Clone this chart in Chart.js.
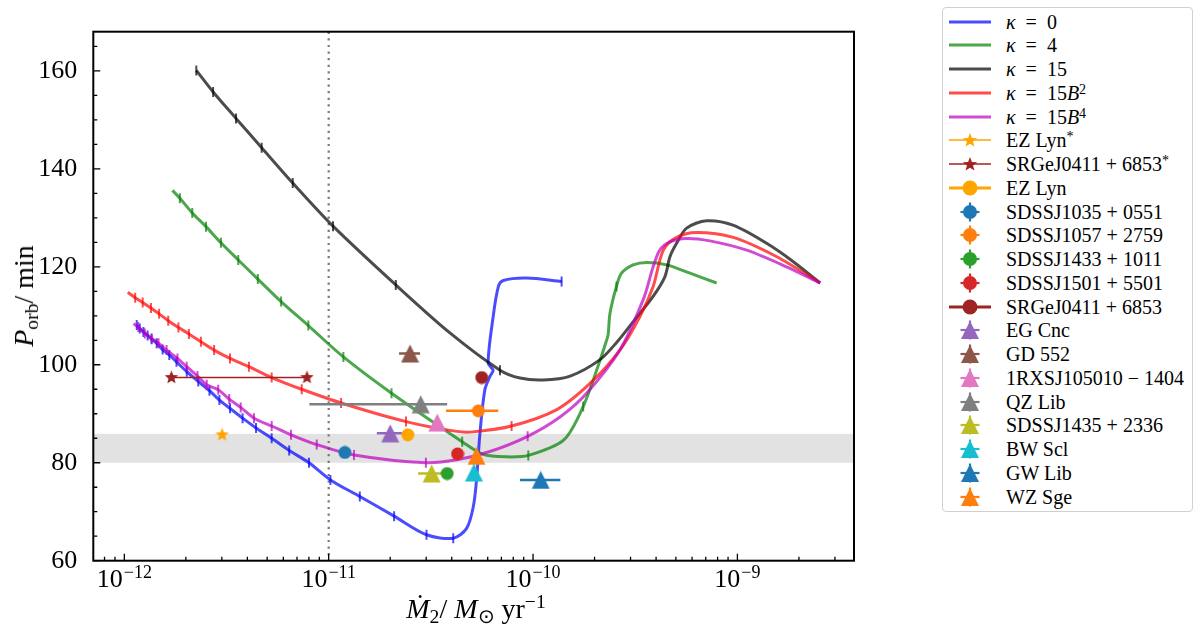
<!DOCTYPE html>
<html>
<head>
<meta charset="utf-8">
<title>Porb vs Mdot</title>
<script src="https://cdn.jsdelivr.net/npm/chart.js@4.4.1/dist/chart.umd.min.js"></script>
<style>
  html, body { margin: 0; padding: 0; background: #fff; }
  body { width: 1200px; height: 638px; position: relative; overflow: hidden; font-family: 'Liberation Serif', serif; color: #000; }
  #plot { position: absolute; left: 0; top: 0; }
  .axtitle { position: absolute; font-size: 28px; white-space: nowrap; line-height: 1; }
  #ytitle { left: 24px; top: 296px; transform: translate(-50%, -50%) rotate(-90deg); }
  #xtitle { left: 476px; top: 609px; transform: translate(-50%, -50%); }
  .axtitle sub { font-size: 0.7em; vertical-align: -0.25em; line-height: 0; }
  .axtitle sup { font-size: 0.7em; vertical-align: 0.5em; line-height: 0; }
  #legend { position: absolute; left: 942px; top: 7px; width: 251px; height: 505px; border: 1px solid #d0d0d0; border-radius: 4px; box-sizing: border-box; background: #fff; }
  .row { position: absolute; left: 0; height: 24px; width: 100%; }
  .row svg { position: absolute; left: 0; top: 0; }
  .row span { position: absolute; left: 63px; top: 0; line-height: 24px; font-size: 20px; white-space: nowrap; }
  .row sup { font-size: 0.7em; vertical-align: 0.45em; line-height: 0; }
</style>
</head>
<body>
<canvas id="plot" width="880" height="638"></canvas>
<div id="ytitle" class="axtitle"><i>P</i><sub>orb</sub>/ min</div>
<div id="xtitle" class="axtitle"><i>Ṁ</i><sub>2</sub>/ <i>M</i><sub>⊙</sub> yr<sup>−1</sup></div>
<div id="legend"></div>
<script>
// axis ranges and ticks
const xMin = 7.05e-13, xMax = 3.72e-9;
const yMin = 60, yMax = 168;
const yMajorTicks = [60, 80, 100, 120, 140, 160];
const xMajorTicks = [1e-12, 1e-11, 1e-10, 1e-9];
const xTickExponents = ['−12', '−11', '−10', '−9'];
const bandPorb = [80.0, 85.9];
const dottedMdot = 1e-11;

// evolution tracks (Mdot in Msun/yr, Porb in min, 1 = track has a tick mark there)
const k0Mdot = [1.15e-12, 1.19e-12, 1.24e-12, 1.30e-12, 1.36e-12, 1.44e-12, 1.54e-12, 1.66e-12, 1.80e-12, 2.02e-12,
  2.30e-12, 2.61e-12, 2.92e-12, 3.29e-12, 3.79e-12, 4.41e-12, 5.26e-12, 6.41e-12, 8.01e-12, 1.02e-11,
  1.42e-11, 2.09e-11, 3.01e-11, 4.07e-11, 4.73e-11, 5.10e-11, 5.29e-11, 5.50e-11, 5.81e-11, 6.15e-11,
  6.38e-11, 6.03e-11, 6.38e-11, 6.76e-11, 7.15e-11, 9.30e-11, 1.38e-10];
const k0Porb = [108.1, 107.4, 106.7, 106.0, 105.2, 104.4, 103.1, 102.0, 100.6, 98.6,
  96.6, 94.7, 92.8, 91.1, 89.1, 87.1, 85.0, 82.5, 80.0, 76.5,
  73.1, 69.1, 65.3, 64.6, 66.6, 71.0, 76.5, 86.1, 94.9, 97.6,
  98.9, 100.3, 109.8, 115.9, 117.2, 117.7, 117.0];
const k0Tick = [1, 1, 1, 1, 1, 1, 1, 1, 1, 1, 1, 1, 1, 1, 1, 1, 1, 1, 1, 1, 1, 1, 1, 1,
  0, 0, 0, 0, 0, 0, 0, 0, 0, 0, 0, 0, 1];

const k4Mdot = [1.72e-12, 1.87e-12, 2.15e-12, 2.51e-12, 2.97e-12, 3.61e-12, 4.50e-12, 5.85e-12, 7.95e-12, 1.18e-11,
  2.03e-11, 4.50e-11, 5.71e-11, 7.43e-11, 9.48e-11, 1.41e-10, 1.76e-10, 2.13e-10, 2.29e-10, 2.33e-10,
  2.38e-10, 2.56e-10, 2.71e-10, 3.09e-10, 3.60e-10, 4.51e-10, 5.86e-10, 7.91e-10];
const k4Porb = [135.6, 134.0, 131.0, 128.2, 124.9, 121.4, 117.5, 112.9, 108.0, 101.6,
  94.2, 84.3, 81.7, 81.2, 81.5, 84.6, 91.5, 101.0, 105.0, 106.1,
  110.5, 116.0, 118.7, 120.4, 120.9, 120.4, 118.7, 116.7];
const k4Tick = [0, 1, 1, 1, 1, 1, 1, 1, 1, 1, 1, 1, 0, 0, 1, 0, 1, 0, 0, 0, 0, 1, 0, 0, 0, 0, 0, 0];

const k15Mdot = [2.25e-12, 2.72e-12, 3.52e-12, 4.70e-12, 6.67e-12, 1.05e-11, 2.13e-11, 3.92e-11, 6.89e-11, 8.63e-11,
  1.12e-10, 1.52e-10, 2.12e-10, 2.57e-10, 3.08e-10, 3.86e-10, 4.41e-10, 4.68e-10, 5.04e-10, 5.64e-10,
  7.06e-10, 9.51e-10, 1.39e-9, 1.87e-9, 2.54e-9];
const k15Porb = [160.1, 155.7, 150.3, 144.3, 137.1, 128.3, 116.3, 106.5, 98.9, 97.3,
  96.9, 97.7, 101.0, 104.6, 108.7, 113.9, 117.9, 122.1, 124.8, 127.9,
  129.4, 128.5, 124.8, 121.1, 116.7];
const k15Tick = [1, 1, 1, 1, 1, 1, 1, 0, 1, 0, 0, 0, 0, 0, 0, 0, 0, 0, 0, 0, 0, 0, 0, 0, 0];

const k15B2Mdot = [1.04e-12, 1.13e-12, 1.23e-12, 1.35e-12, 1.48e-12, 1.64e-12, 1.84e-12, 2.07e-12, 2.37e-12, 2.75e-12,
  3.29e-12, 4.07e-12, 5.26e-12, 7.38e-12, 1.15e-11, 2.39e-11, 4.23e-11, 5.08e-11, 7.85e-11, 1.30e-10,
  1.90e-10, 2.66e-10, 3.33e-10, 3.87e-10, 4.34e-10, 5.04e-10, 6.31e-10, 9.53e-10, 1.55e-9, 2.54e-9];
const k15B2Porb = [114.8, 113.7, 112.7, 111.6, 110.4, 109.0, 107.6, 106.3, 104.7, 103.0,
  101.3, 99.6, 97.4, 95.0, 92.2, 88.4, 86.4, 86.3, 87.5, 90.8,
  96.2, 103.0, 109.8, 116.0, 123.4, 126.0, 127.0, 126.0, 122.1, 116.7];
const k15B2Tick = [0, 1, 1, 1, 1, 1, 1, 1, 1, 1, 1, 1, 1, 1, 1, 1, 0, 0, 1, 0, 0, 0, 0, 0, 0, 0, 0, 0, 0, 0];

const k15B4Mdot = [1.11e-12, 1.17e-12, 1.26e-12, 1.36e-12, 1.47e-12, 1.61e-12, 1.82e-12, 2.02e-12, 2.28e-12, 2.53e-12,
  2.88e-12, 3.26e-12, 3.71e-12, 4.31e-12, 5.26e-12, 6.54e-12, 8.74e-12, 1.33e-11, 2.99e-11, 4.23e-11,
  6.15e-11, 9.41e-11, 1.36e-10, 1.83e-10, 2.66e-10, 3.46e-10, 3.87e-10, 4.17e-10, 4.67e-10, 5.64e-10,
  7.33e-10, 1.11e-9, 1.74e-9, 2.54e-9];
const k15B4Porb = [108.4, 107.7, 106.4, 105.4, 104.4, 103.0, 101.3, 99.6, 97.7, 95.9,
  94.9, 93.0, 91.3, 89.1, 87.5, 85.7, 83.7, 81.6, 80.0, 80.6,
  82.3, 85.4, 89.4, 94.2, 103.0, 113.3, 120.0, 123.4, 125.1, 125.8,
  125.3, 123.4, 120.0, 116.7];
const k15B4Tick = [0, 1, 1, 1, 1, 1, 1, 1, 1, 1, 1, 1, 1, 1, 1, 1, 1, 1, 1, 0, 0, 1, 0, 0, 0, 0, 0, 0, 0, 0, 0, 0, 0, 0];

// observed systems
const ezStarMdot = [3.01e-12];
const ezStarPorb = [85.7];
const srgStarMdot = [1.70e-12, 7.83e-12];
const srgStarPorb = [97.4, 97.4];

const circleNames = ['EZ Lyn', 'SDSSJ1035+0551', 'SDSSJ1057+2759', 'SDSSJ1433+1011', 'SDSSJ1501+5501', 'SRGeJ0411+6853'];
const circleMdot = [2.44e-11, 1.20e-11, 5.40e-11, 3.80e-11, 4.27e-11, 5.61e-11];
const circlePorb = [85.7, 82.1, 90.6, 77.8, 81.8, 97.4];
const circleMdotLo = [null, null, 3.75e-11, null, null, null];
const circleMdotHi = [null, null, 6.76e-11, null, null, null];

const triNames = ['EG Cnc', 'GD 552', '1RXSJ105010-1404', 'QZ Lib', 'SDSSJ1435+2336', 'BW Scl', 'GW Lib', 'WZ Sge'];
const triMdot = [2.00e-11, 2.50e-11, 3.40e-11, 2.82e-11, 3.19e-11, 5.14e-11, 1.09e-10, 5.29e-11];
const triPorb = [86.0, 102.3, 88.2, 91.95, 77.8, 78.0, 76.5, 81.4];
const triMdotLo = [1.72e-11, 2.21e-11, null, 8.04e-12, 2.74e-11, null, 8.63e-11, null];
const triMdotHi = [2.30e-11, 2.80e-11, null, 3.80e-11, 3.71e-11, null, 1.36e-10, null];

// colours
const trackColors = ['rgba(0,0,255,0.7)', 'rgba(0,128,0,0.7)', 'rgba(0,0,0,0.7)', 'rgba(255,0,0,0.7)', 'rgba(191,0,191,0.7)'];
const ezColor = '#ffa500';
const srgColor = '#a02323';
const circleColors = [ezColor, '#1f77b4', '#ff7f0e', '#2ca02c', '#d62728', srgColor];
const triColors = ['#9467bd', '#8c564b', '#e377c2', '#7f7f7f', '#bcbd22', '#17becf', '#1f77b4', '#ff7f0e'];

function markerCanvas(shape, color, size) {
  const c = document.createElement('canvas');
  c.width = c.height = size;
  const g = c.getContext('2d');
  const h = size / 2;
  g.fillStyle = color;
  g.beginPath();
  if (shape === 'circle') {
    g.arc(h, h, h - 0.5, 0, Math.PI * 2);
  } else if (shape === 'tri') {
    g.moveTo(h, 0.5);
    g.lineTo(size - 0.5, size - 0.5);
    g.lineTo(0.5, size - 0.5);
    g.closePath();
  } else {
    for (let i = 0; i < 10; i++) {
      const r = i % 2 ? h * 0.42 : h - 0.5;
      const a = -Math.PI / 2 + i * Math.PI / 5;
      g.lineTo(h + r * Math.cos(a), h + r * Math.sin(a));
    }
    g.closePath();
  }
  g.fill();
  return c;
}

const pts = (xs, ys) => xs.map((x, i) => ({ x: x, y: ys[i] }));

const datasets = [];

// tracks, drawn under the markers
const tracks = [
  [k0Mdot, k0Porb, k0Tick],
  [k4Mdot, k4Porb, k4Tick],
  [k15Mdot, k15Porb, k15Tick],
  [k15B2Mdot, k15B2Porb, k15B2Tick],
  [k15B4Mdot, k15B4Porb, k15B4Tick]
];
tracks.forEach((t, k) => {
  datasets.push({
    data: pts(t[0], t[1]),
    showLine: true,
    borderColor: trackColors[k],
    borderWidth: 3,
    tension: 0.3,
    pointStyle: 'line',
    rotation: 90,
    pointBorderColor: trackColors[k],
    pointBorderWidth: 2,
    pointRadius: ctx => (t[2][ctx.dataIndex] ? 5 : 0),
    pointHoverRadius: 0,
    order: 6 - k
  });
});

// x error bars
const addErr = (lo, hi, y, color) => {
  if (lo == null) return;
  datasets.push({
    data: pts([lo, hi], [y, y]),
    showLine: true,
    borderColor: color,
    borderWidth: 2.5,
    pointRadius: 0,
    order: 1
  });
};
circleMdot.forEach((m, i) => addErr(circleMdotLo[i], circleMdotHi[i], circlePorb[i], circleColors[i]));
triMdot.forEach((m, i) => addErr(triMdotLo[i], triMdotHi[i], triPorb[i], triColors[i]));

// stars
datasets.push({
  data: pts(srgStarMdot, srgStarPorb),
  showLine: true,
  borderColor: srgColor,
  borderWidth: 1.5,
  pointStyle: markerCanvas('star', srgColor, 15),
  pointRadius: 7,
  order: 0
});
datasets.push({
  data: pts(ezStarMdot, ezStarPorb),
  pointStyle: markerCanvas('star', ezColor, 15),
  pointRadius: 7,
  order: 0
});

// circles and triangles
circleMdot.forEach((m, i) => {
  datasets.push({
    label: circleNames[i],
    data: pts([m], [circlePorb[i]]),
    pointStyle: markerCanvas('circle', circleColors[i], 14),
    pointRadius: 7,
    order: 0
  });
});
triMdot.forEach((m, i) => {
  datasets.push({
    label: triNames[i],
    data: pts([m], [triPorb[i]]),
    pointStyle: markerCanvas('tri', triColors[i], 19),
    pointRadius: 9,
    order: 0
  });
});

const decor = {
  id: 'decor',
  beforeDatasetsDraw(chart) {
    const { ctx, chartArea: a, scales } = chart;
    const y0 = scales.y.getPixelForValue(bandPorb[1]);
    const y1 = scales.y.getPixelForValue(bandPorb[0]);
    ctx.save();
    ctx.fillStyle = '#e2e2e2';
    ctx.fillRect(a.left, y0, a.right - a.left, y1 - y0);
    const xd = scales.x.getPixelForValue(dottedMdot);
    ctx.strokeStyle = '#7a7a7a';
    ctx.lineWidth = 2.2;
    ctx.setLineDash([2.2, 4.4]);
    ctx.beginPath();
    ctx.moveTo(xd, a.top);
    ctx.lineTo(xd, a.bottom);
    ctx.stroke();
    ctx.restore();
  },
  afterDraw(chart) {
    const { ctx, chartArea: a, scales: { x, y } } = chart;
    ctx.save();
    ctx.strokeStyle = '#000';
    ctx.lineWidth = 1.3;
    ctx.beginPath();
    for (let v = yMin; v <= yMax; v += 5) {
      const py = y.getPixelForValue(v);
      const len = yMajorTicks.includes(v) ? 7 : 4;
      ctx.moveTo(a.left, py);
      ctx.lineTo(a.left + len, py);
    }
    for (let e = -13; e <= -9; e++) {
      for (let m = 1; m <= 9; m++) {
        const v = m * Math.pow(10, e);
        if (v < xMin || v > xMax) continue;
        const px = x.getPixelForValue(v);
        const len = m === 1 ? 7 : 4;
        ctx.moveTo(px, a.bottom);
        ctx.lineTo(px, a.bottom - len);
      }
    }
    ctx.stroke();
    ctx.lineWidth = 2;
    ctx.strokeRect(a.left, a.top, a.right - a.left, a.bottom - a.top);

    // x tick labels 10^n
    ctx.fillStyle = '#000';
    ctx.textBaseline = 'alphabetic';
    ctx.textAlign = 'left';
    xMajorTicks.forEach((v, i) => {
      const px = x.getPixelForValue(v);
      ctx.font = "26px 'Liberation Serif'";
      const wb = ctx.measureText('10').width;
      ctx.font = "18px 'Liberation Serif'";
      const ws = ctx.measureText(xTickExponents[i]).width;
      const x0 = px - (wb + ws + 1) / 2;
      ctx.font = "26px 'Liberation Serif'";
      ctx.fillText('10', x0, a.bottom + 26);
      ctx.font = "18px 'Liberation Serif'";
      ctx.fillText(xTickExponents[i], x0 + wb + 1, a.bottom + 17);
    });
    ctx.restore();
  }
};

new Chart(document.getElementById('plot'), {
  type: 'scatter',
  data: { datasets: datasets },
  options: {
    responsive: false,
    animation: false,
    events: [],
    layout: { padding: { top: 31.7, right: 26, left: 0, bottom: 0 } },
    plugins: { legend: { display: false }, tooltip: { enabled: false } },
    scales: {
      x: {
        type: 'logarithmic',
        min: xMin,
        max: xMax,
        grid: { display: false },
        border: { display: false },
        ticks: { display: false },
        afterBuildTicks: s => { s.ticks = xMajorTicks.map(v => ({ value: v })); },
        afterFit: s => { s.height = 77.3; }
      },
      y: {
        min: yMin,
        max: yMax,
        grid: { display: false },
        border: { display: false },
        afterBuildTicks: s => { s.ticks = yMajorTicks.map(v => ({ value: v })); },
        ticks: {
          padding: 8,
          color: '#000',
          font: { family: "'Liberation Serif'", size: 26 }
        },
        afterFit: s => { s.width = 93.3; }
      }
    }
  },
  plugins: [decor]
});

// legend
function iconSvg(kind, color) {
  let s = '<svg width="56" height="24" viewBox="0 0 56 24">';
  const star = c => {
    let p = [];
    for (let i = 0; i < 10; i++) {
      const r = i % 2 ? 3.2 : 7.5;
      const a = -Math.PI / 2 + i * Math.PI / 5;
      p.push((27 + r * Math.cos(a)).toFixed(2) + ',' + (12.5 + r * Math.sin(a)).toFixed(2));
    }
    return '<polygon points="' + p.join(' ') + '" fill="' + c + '"/>';
  };
  const cross = c => '<line x1="17.5" y1="12" x2="36.5" y2="12" stroke="' + c + '" stroke-width="2.2"/>' +
    '<line x1="27" y1="2.5" x2="27" y2="21.5" stroke="' + c + '" stroke-width="2.2"/>';
  if (kind === 'line') {
    s += '<line x1="6" y1="12" x2="48" y2="12" stroke="' + color + '" stroke-width="3"/>';
  } else if (kind === 'lineStar') {
    s += '<line x1="6" y1="12" x2="48" y2="12" stroke="' + color + '" stroke-width="1.5"/>' + star(color);
  } else if (kind === 'lineCircle') {
    s += '<line x1="6" y1="12" x2="48" y2="12" stroke="' + color + '" stroke-width="3"/>' +
      '<circle cx="27" cy="12" r="7.5" fill="' + color + '"/>';
  } else if (kind === 'circle') {
    s += cross(color) + '<circle cx="27" cy="12" r="7" fill="' + color + '"/>';
  } else {
    s += cross(color) + '<polygon points="27,3 36,21 18,21" fill="' + color + '"/>';
  }
  return s + '</svg>';
}

const legendRows = [
  ['line', trackColors[0], '<i>κ</i>&ensp;=&ensp;0'],
  ['line', trackColors[1], '<i>κ</i>&ensp;=&ensp;4'],
  ['line', trackColors[2], '<i>κ</i>&ensp;=&ensp;15'],
  ['line', trackColors[3], '<i>κ</i>&ensp;=&ensp;15<i>B</i><sup>2</sup>'],
  ['line', trackColors[4], '<i>κ</i>&ensp;=&ensp;15<i>B</i><sup>4</sup>'],
  ['lineStar', ezColor, 'EZ Lyn<sup>*</sup>'],
  ['lineStar', srgColor, 'SRGeJ0411 + 6853<sup>*</sup>'],
  ['lineCircle', ezColor, 'EZ Lyn'],
  ['circle', circleColors[1], 'SDSSJ1035 + 0551'],
  ['circle', circleColors[2], 'SDSSJ1057 + 2759'],
  ['circle', circleColors[3], 'SDSSJ1433 + 1011'],
  ['circle', circleColors[4], 'SDSSJ1501 + 5501'],
  ['lineCircle', srgColor, 'SRGeJ0411 + 6853'],
  ['tri', triColors[0], 'EG Cnc'],
  ['tri', triColors[1], 'GD 552'],
  ['tri', triColors[2], '1RXSJ105010 − 1404'],
  ['tri', triColors[3], 'QZ Lib'],
  ['tri', triColors[4], 'SDSSJ1435 + 2336'],
  ['tri', triColors[5], 'BW Scl'],
  ['tri', triColors[6], 'GW Lib'],
  ['tri', triColors[7], 'WZ Sge']
];
const legendEl = document.getElementById('legend');
legendRows.forEach((r, i) => {
  const row = document.createElement('div');
  row.className = 'row';
  row.style.top = (1.7 + i * 23.75) + 'px';
  row.innerHTML = iconSvg(r[0], r[1]) + '<span>' + r[2] + '</span>';
  legendEl.appendChild(row);
});
</script>
</body>
</html>
